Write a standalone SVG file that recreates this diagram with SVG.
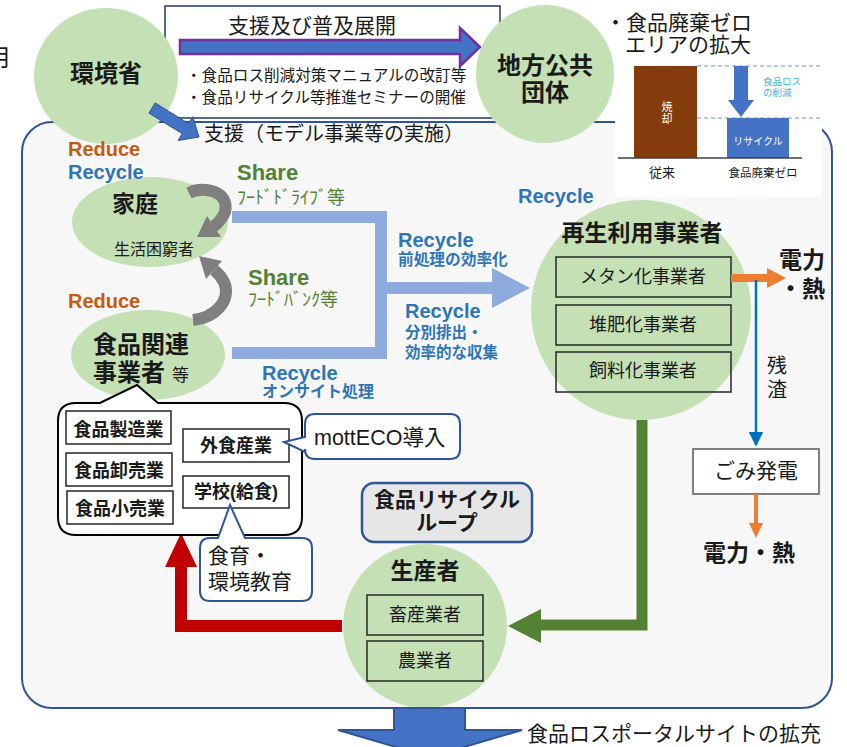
<svg xmlns="http://www.w3.org/2000/svg" width="847" height="747" viewBox="0 0 847 747">
<style>
text{font-family:"Liberation Sans","Noto Sans CJK JP",sans-serif;fill:#1a1a1a}
.b{font-weight:bold}
.m{text-anchor:middle}
.circ{fill:#C5E0B4}
.box{fill:none;stroke:#262626;stroke-width:1.5}
.wbox{fill:#fff;stroke:#262626;stroke-width:1.5}
.rec{fill:#2E75B6;font-weight:bold}
.red{fill:#C55A11;font-weight:bold}
.grn{fill:#548235}
.w{fill:#fff}
.lb{fill:#3DB4E6}
</style>
<defs>
<marker id="blueHead" viewBox="0 0 10 10" refX="9" refY="5" markerWidth="6" markerHeight="6" orient="auto"><path d="M0 0L10 5L0 10z" fill="#0070C0"/></marker>
</defs>
<rect width="847" height="747" fill="#fff"/>
<text x="-14" y="66" font-size="24">用</text>

<g id="main-frame">
<rect x="22" y="122" width="810" height="586" rx="30" fill="#F7F7F7" stroke="#2F5597" stroke-width="2"/>
</g>

<g id="support-box">
<rect x="165" y="6" width="335" height="112" fill="#fff" stroke="#203864" stroke-width="1.5"/>
<text x="228" y="33" font-size="21">支援及び普及展開</text>
<polygon points="180,40 460,40 460,28 480,47 460,66 460,54 180,54" fill="#4472C4" stroke="#7030A0" stroke-width="2.5"/>
<text x="186" y="81" font-size="15.6">・食品ロス削減対策マニュアルの改訂等</text>
<text x="186" y="103" font-size="15.6">・食品リサイクル等推進セミナーの開催</text>
</g>

<g id="moe">
<ellipse class="circ" cx="106" cy="76" rx="72" ry="68"/>
<text class="b m" x="106" y="82" font-size="24">環境省</text>
</g>

<g id="local-gov">
<ellipse class="circ" cx="545" cy="74" rx="69" ry="69"/>
<text class="b m" x="545" y="74" font-size="24">地方公共</text>
<text class="b m" x="545" y="101" font-size="24">団体</text>
</g>

<g id="zero-area">
<text x="605" y="30" font-size="21">・食品廃棄ゼロ</text>
<text x="625" y="52" font-size="21">エリアの拡大</text>
<rect x="615" y="62" width="207" height="135" fill="#fff"/>
<line x1="697" y1="66" x2="820" y2="66" stroke="#5B9BD5" stroke-width="1" stroke-dasharray="4 3"/>
<line x1="697" y1="118" x2="820" y2="118" stroke="#5B9BD5" stroke-width="1" stroke-dasharray="4 3"/>
<rect x="634" y="66" width="63" height="92" fill="#843C0C"/>
<text class="w m" x="667" y="111" font-size="11">焼</text>
<text class="w m" x="667" y="123" font-size="11">却</text>
<rect x="727" y="118" width="62" height="40" fill="#4472C4"/>
<text class="w m" x="758" y="145" font-size="10">リサイクル</text>
<line x1="618" y1="158" x2="802" y2="158" stroke="#404040" stroke-width="1.5"/>
<polygon points="734,66 748,66 748,100 754,100 741,117 728,100 734,100" fill="#4472C4"/>
<text class="lb" x="763" y="85" font-size="9.5">食品ロス</text>
<text class="lb" x="763" y="96" font-size="9.5">の削減</text>
<text class="m" x="662" y="177" font-size="13">従来</text>
<text class="m" x="763" y="177" font-size="11.5">食品廃棄ゼロ</text>
</g>

<g id="support-arrow">
<polygon points="155.2,102.9 188.5,123.5 192.8,116.7 199,137 178.1,140.5 182.2,133.7 148.9,113.1" fill="#4472C4" stroke="#2F5597" stroke-width="1"/>
<text x="204" y="141" font-size="20">支援（モデル事業等の実施）</text>
</g>

<g id="household">
<ellipse class="circ" cx="150" cy="222" rx="78" ry="45"/>
<text class="b m" x="135" y="212" font-size="23">家庭</text>
<text x="114" y="255" font-size="16">生活困窮者</text>
</g>

<g id="food-business">
<ellipse class="circ" cx="148" cy="355" rx="77" ry="45"/>
<text class="b m" x="141" y="353" font-size="24">食品関連</text>
<text class="b" x="93" y="381" font-size="24">事業者</text>
<text x="172" y="381" font-size="17">等</text>
</g>

<g id="recycler">
<circle class="circ" cx="641" cy="310" r="110"/>
<text class="b m" x="642" y="241" font-size="23">再生利用事業者</text>
<rect class="box" x="556" y="257" width="175" height="40"/>
<text class="m" x="643" y="283" font-size="18">メタン化事業者</text>
<rect class="box" x="556" y="305" width="175" height="40"/>
<text class="m" x="643" y="331" font-size="18">堆肥化事業者</text>
<rect class="box" x="556" y="352" width="175" height="40"/>
<text class="m" x="643" y="377" font-size="18">飼料化事業者</text>
</g>

<g id="producer">
<circle class="circ" cx="425" cy="626" r="82"/>
<text class="b m" x="425" y="579" font-size="23">生産者</text>
<rect class="box" x="367" y="595" width="116" height="40"/>
<text class="m" x="425" y="621" font-size="18">畜産業者</text>
<rect class="box" x="367" y="641" width="116" height="40"/>
<text class="m" x="425" y="667" font-size="18">農業者</text>
</g>

<g id="garbage-power">
<rect x="693" y="449" width="126" height="45" fill="#fff" stroke="#808080" stroke-width="2"/>
<text class="m" x="756" y="478" font-size="21">ごみ発電</text>
</g>

<g id="connectors">
<path d="M232 217H381V353H232M381 288H493" fill="none" stroke="#8FAADC" stroke-width="12"/>
<polygon points="492,268 530,288 492,308" fill="#8FAADC"/>
<path d="M189 193C205 185 230 192 225 212C222 220 217 224 213 227" fill="none" stroke="#7F7F7F" stroke-width="12"/>
<polygon points="197,237 207,216 221,237" fill="#7F7F7F"/>
<path d="M193 320C215 318 232 300 224 282C221 276 218 273 214 270" fill="none" stroke="#7F7F7F" stroke-width="12"/>
<polygon points="199,256 222,261 206,279" fill="#7F7F7F"/>
<path d="M731 278H768" stroke="#ED7D31" stroke-width="8"/>
<polygon points="767,268 786,278 767,288" fill="#ED7D31"/>
<line x1="756" y1="280" x2="756" y2="445" stroke="#0070C0" stroke-width="2.5" marker-end="url(#blueHead)"/>
<line x1="756" y1="494" x2="756" y2="525" stroke="#ED7D31" stroke-width="4"/>
<polygon points="749,523 763,523 756,538" fill="#ED7D31"/>
<path d="M642 420V625H541" fill="none" stroke="#548235" stroke-width="11"/>
<polygon points="541,609 508,626 541,643" fill="#548235"/>
<path d="M342 626H181V566" fill="none" stroke="#C00000" stroke-width="12"/>
<polygon points="165,567 181,533 197,567" fill="#C00000"/>
<polygon points="394,708 465,708 465,730 522,730 430,757 338,730 394,730" fill="#4472C4" stroke="#2F5597" stroke-width="2"/>
</g>

<g id="labels">
<text class="red" x="68" y="156" font-size="20">Reduce</text>
<text class="rec" x="68" y="179" font-size="20">Recycle</text>
<text class="red" x="68" y="308" font-size="20">Reduce</text>
<text class="grn b" x="237" y="180" font-size="22">Share</text>
<text class="grn" x="237" y="204" font-size="18">ﾌｰﾄﾞﾄﾞﾗｲﾌﾞ等</text>
<text class="grn b" x="248" y="285" font-size="22">Share</text>
<text class="grn" x="248" y="306" font-size="18">ﾌｰﾄﾞﾊﾞﾝｸ等</text>
<text class="rec" x="398" y="247" font-size="20">Recycle</text>
<text class="rec" x="398" y="265" font-size="15.7">前処理の効率化</text>
<text class="rec" x="405" y="318" font-size="20">Recycle</text>
<text class="rec" x="405" y="338" font-size="15.5">分別排出・</text>
<text class="rec" x="405" y="358" font-size="15.5">効率的な収集</text>
<text class="rec" x="262" y="380" font-size="20">Recycle</text>
<text class="rec" x="262" y="397" font-size="16">オンサイト処理</text>
<text class="rec" x="518" y="203" font-size="20">Recycle</text>
<text class="b" x="779" y="268" font-size="23">電力</text>
<text class="b" x="779" y="297" font-size="23">・熱</text>
<text x="767" y="373" font-size="20">残</text>
<text x="767" y="397" font-size="20">渣</text>
<text class="b" x="703" y="561" font-size="23">電力・熱</text>
<text x="527" y="741" font-size="21">食品ロスポータルサイトの拡充</text>
</g>

<g id="business-types">
<path d="M76 403H100L137 385L158 403H284Q302 403 302 421V517Q302 535 284 535H76Q58 535 58 517V421Q58 403 76 403Z" fill="#fff" stroke="#000" stroke-width="2"/>
<rect class="wbox" x="66" y="411" width="105" height="33"/>
<text class="b m" x="118.5" y="436" font-size="18">食品製造業</text>
<rect class="wbox" x="66" y="453" width="106" height="33"/>
<text class="b m" x="119" y="477" font-size="18">食品卸売業</text>
<rect class="wbox" x="67" y="491" width="106" height="33"/>
<text class="b m" x="120" y="515" font-size="18">食品小売業</text>
<rect class="wbox" x="183" y="429" width="106" height="33"/>
<text class="b m" x="236" y="452" font-size="18">外食産業</text>
<rect class="wbox" x="183" y="476" width="106" height="32"/>
<text class="b m" x="236" y="498" font-size="18">学校(給食)</text>
</g>

<g id="mottECO">
<path d="M315 414H450Q460 414 460 424V449Q460 459 450 459H315Q305 459 305 449V452L284 442L305 437V424Q305 414 315 414Z" fill="#fff" stroke="#2F5597" stroke-width="2"/>
<text x="314" y="445" font-size="21.5">mottECO導入</text>
</g>

<g id="education">
<path d="M210 538H218L230 505L245 538H302Q312 538 312 548V591Q312 601 302 601H210Q200 601 200 591V548Q200 538 210 538Z" fill="#fff" stroke="#2F5597" stroke-width="2"/>
<text x="208" y="563" font-size="21">食育・</text>
<text x="208" y="589" font-size="21">環境教育</text>
</g>

<g id="recycle-loop">
<rect x="362" y="483" width="170" height="59" rx="12" fill="#E7E6E6" stroke="#2F5597" stroke-width="2.5"/>
<text class="b m" x="447" y="507" font-size="21">食品リサイクル</text>
<text class="b m" x="447" y="530" font-size="21">ループ</text>
</g>
</svg>
